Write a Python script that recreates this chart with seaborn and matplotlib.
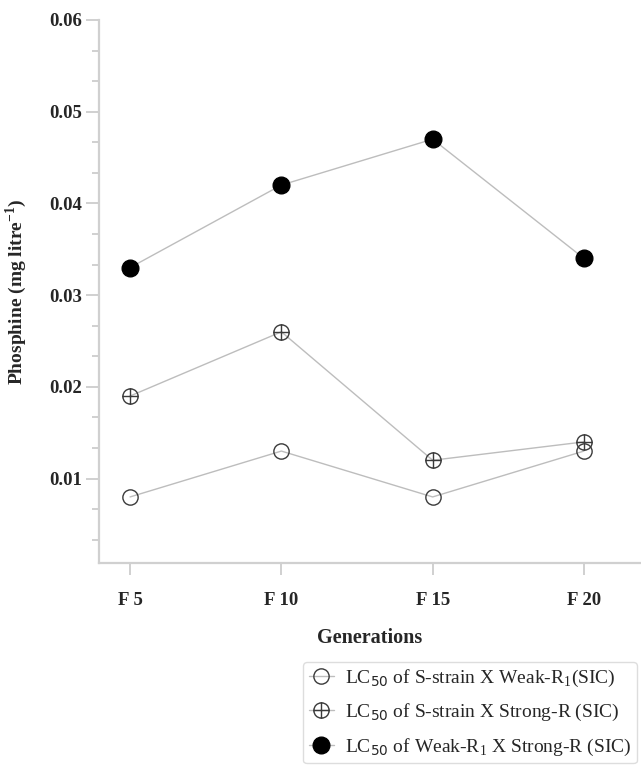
import numpy as np
import pandas as pd
import matplotlib as mpl
mpl.use("Agg")
import matplotlib.pyplot as plt
import seaborn as sns
from matplotlib.path import Path
from matplotlib.ticker import MultipleLocator

generations = ["F 5", "F 10", "F 15", "F 20"]
s_x_weak = [0.008, 0.013, 0.008, 0.013]
s_x_strong = [0.019, 0.026, 0.012, 0.014]
weak_x_strong = [0.033, 0.042, 0.047, 0.034]

labels = [r"LC$_{\mathsf{50}}$ of S-strain X Weak-R$_1$(SIC)",
          r"LC$_{\mathsf{50}}$ of S-strain X Strong-R (SIC)",
          r"LC$_{\mathsf{50}}$ of Weak-R$_1$ X Strong-R (SIC)"]

sns.set_style("ticks")
plt.rcParams['font.family'] = ['Liberation Serif', 'DejaVu Serif']
plt.rcParams['mathtext.fontset'] = 'custom'
plt.rcParams['mathtext.rm'] = 'Liberation Serif'
plt.rcParams['mathtext.bf'] = 'Liberation Serif:bold'
plt.rcParams['mathtext.sf'] = 'DejaVu Sans'

# circle with a cross inside
circ = Path.unit_circle()
oplus = Path(np.concatenate([circ.vertices, [[-1, 0], [1, 0], [0, -1], [0, 1]]]),
             np.concatenate([circ.codes, [Path.MOVETO, Path.LINETO, Path.MOVETO, Path.LINETO]]))

fig = plt.figure(figsize=(6.41, 7.67), dpi=100)
ax = fig.add_axes([0.1545, 0.266, 0.8455, 0.708])

line_col = '#bdbdbd'
edge = '#3a3a3a'
series = [
    (s_x_weak, 'o', 'none', 11),
    (s_x_strong, oplus, 'none', 11),
    (weak_x_strong, 'o', 'black', 12),
]
for (vals, mk, fc, ms), lab in zip(series, labels):
    sns.lineplot(x=generations, y=vals, ax=ax, color=line_col, lw=1,
                 marker=mk, markersize=ms, markerfacecolor=fc,
                 markeredgecolor=edge if fc == 'none' else 'black',
                 markeredgewidth=1.0, label=lab, legend=False)

ax.set_xlim(-0.205, 3.377)
ax.set_ylim(0.0008, 0.06)
ax.yaxis.set_minor_locator(MultipleLocator(0.01 / 3))
ax.set_yticks([0.01, 0.02, 0.03, 0.04, 0.05, 0.06])
ax.set_yticklabels(["0.01", "0.02", "0.03", "0.04", "0.05", "0.06"])

for s in ['top', 'right']:
    ax.spines[s].set_visible(False)
for s in ['left', 'bottom']:
    ax.spines[s].set_color('#d0d0d0')
    ax.spines[s].set_linewidth(1.6)

ax.tick_params(axis='y', which='major', length=9.4, width=1.2, color='#c8c8c8',
               pad=3, labelsize=13.5)
ax.tick_params(axis='y', which='minor', length=5, width=1.2, color='#c8c8c8')
ax.tick_params(axis='x', which='major', length=8.6, width=1.2, color='#c8c8c8',
               pad=12, labelsize=13.5)
for t in ax.get_xticklabels() + ax.get_yticklabels():
    t.set_fontweight('bold')

ax.set_xlabel("Generations", fontsize=14.5, fontweight='bold', labelpad=14)
ax.set_ylabel(r"Phosphine (mg litre$^{\mathbf{-1}}$)", fontsize=14,
              fontweight='bold', labelpad=14)

handles = ax.get_lines()
leg = ax.legend(handles, labels, loc='upper right',
                bbox_to_anchor=(637 / 641, 1 - 662 / 767),
                bbox_transform=fig.transFigure, fontsize=14,
                frameon=True, fancybox=True, handlelength=1.3,
                handletextpad=0.55, borderpad=0.3, labelspacing=0.68,
                borderaxespad=0)
leg.get_frame().set_edgecolor('#d5d5d5')
leg.get_frame().set_linewidth(1.0)

fig.savefig("out.png", dpi=100)
